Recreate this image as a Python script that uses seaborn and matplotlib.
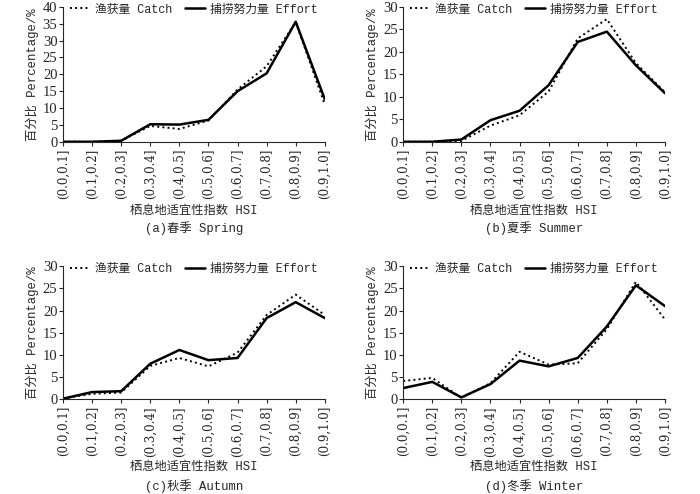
import pandas as pd
import matplotlib
matplotlib.use("Agg")
import matplotlib.pyplot as plt
import seaborn as sns

# HSI classes (x categories)
hsi_bins = ['(0.0,0.1]', '(0.1,0.2]', '(0.2,0.3]', '(0.3,0.4]', '(0.4,0.5]',
            '(0.5,0.6]', '(0.6,0.7]', '(0.7,0.8]', '(0.8,0.9]', '(0.9,1.0]']

# percentages
spring_catch = [0, 0, 0.3, 4.7, 3.8, 6.3, 15.5, 22.4, 35.5, 11.0]
spring_effort = [0, 0, 0.3, 5.2, 5.1, 6.5, 15.0, 20.3, 35.6, 12.6]
summer_catch = [0, 0, 0.2, 3.6, 5.9, 11.2, 23.0, 27.3, 17.5, 11.0]
summer_effort = [0, 0, 0.5, 4.8, 6.9, 12.6, 22.2, 24.5, 17.0, 10.8]
autumn_catch = [0.2, 1.2, 1.5, 7.5, 9.3, 7.4, 10.5, 19.0, 23.6, 19.0]
autumn_effort = [0.1, 1.6, 1.8, 8.0, 11.1, 8.8, 9.3, 18.3, 21.9, 18.3]
winter_catch = [4.1, 4.8, 0.3, 3.6, 10.7, 7.8, 8.1, 15.8, 26.5, 18.0]
winter_effort = [2.5, 3.9, 0.4, 3.4, 8.7, 7.4, 9.3, 16.4, 25.7, 21.0]

captions = ['(a)春季 Spring', '(b)夏季 Summer', '(c)秋季 Autumn', '(d)冬季 Winter']
ymaxes = [40, 30, 30, 30]
series = [(spring_catch, spring_effort), (summer_catch, summer_effort),
          (autumn_catch, autumn_effort), (winter_catch, winter_effort)]

sns.set_style("ticks")
mono = ['Liberation Mono', 'Noto Sans CJK SC', 'DejaVu Sans']
plt.rcParams['font.family'] = mono

fig = plt.figure(figsize=(7, 4.94), dpi=100)
# axes boxes plus y (fraction) of the x label and caption under each panel
positions = [
    ([0.090, 0.713, 0.374, 0.273], 0.573, 0.538),
    ([0.576, 0.713, 0.374, 0.273], 0.573, 0.538),
    ([0.090, 0.192, 0.374, 0.269], 0.054, 0.015),
    ([0.576, 0.192, 0.374, 0.269], 0.054, 0.015),
]

for (pos, xl_y, cap_y), (catch, effort), cap, ymax in zip(positions, series, captions, ymaxes):
    ax = fig.add_axes(pos)
    df = pd.DataFrame({'HSI': hsi_bins, 'catch': catch, 'effort': effort})
    sns.lineplot(data=df, x='HSI', y='catch', ax=ax, color='black', linestyle=':',
                 linewidth=1.4, sort=False, label='渔获量 Catch')
    sns.lineplot(data=df, x='HSI', y='effort', ax=ax, color='black', linestyle='-',
                 linewidth=1.8, sort=False, label='捕捞努力量 Effort')
    ax.set_xlim(0, len(hsi_bins) - 1)
    ax.set_ylim(0, ymax)
    ax.set_yticks(range(0, ymax + 1, 5))
    ax.set_xticks(range(len(hsi_bins)))
    ax.set_xticklabels(hsi_bins, rotation=90, fontsize=8.5, family='DejaVu Serif')
    for t in ax.get_yticklabels():
        t.set_family('Liberation Serif')
        t.set_fontsize(10.5)
    ax.tick_params(axis='y', length=3, pad=1)
    ax.tick_params(axis='x', length=3, pad=2)
    sns.despine(ax=ax)
    ax.set_ylabel('百分比 Percentage/%', fontsize=8.8, labelpad=3)
    ax.set_xlabel('')
    ax.legend(loc='upper center', bbox_to_anchor=(0.5, 1.06), ncol=2, frameon=False,
              fontsize=8.5, handlelength=1.7, handletextpad=0.4, columnspacing=1.1,
              borderaxespad=0)
    x0, y0, w, h = pos
    fig.text(x0 + w / 2, xl_y, '栖息地适宜性指数 HSI', ha='center', va='center', fontsize=8.8)
    fig.text(x0 + w / 2, cap_y, cap, ha='center', va='center', fontsize=8.8)

fig.savefig('out.png', dpi=100)
